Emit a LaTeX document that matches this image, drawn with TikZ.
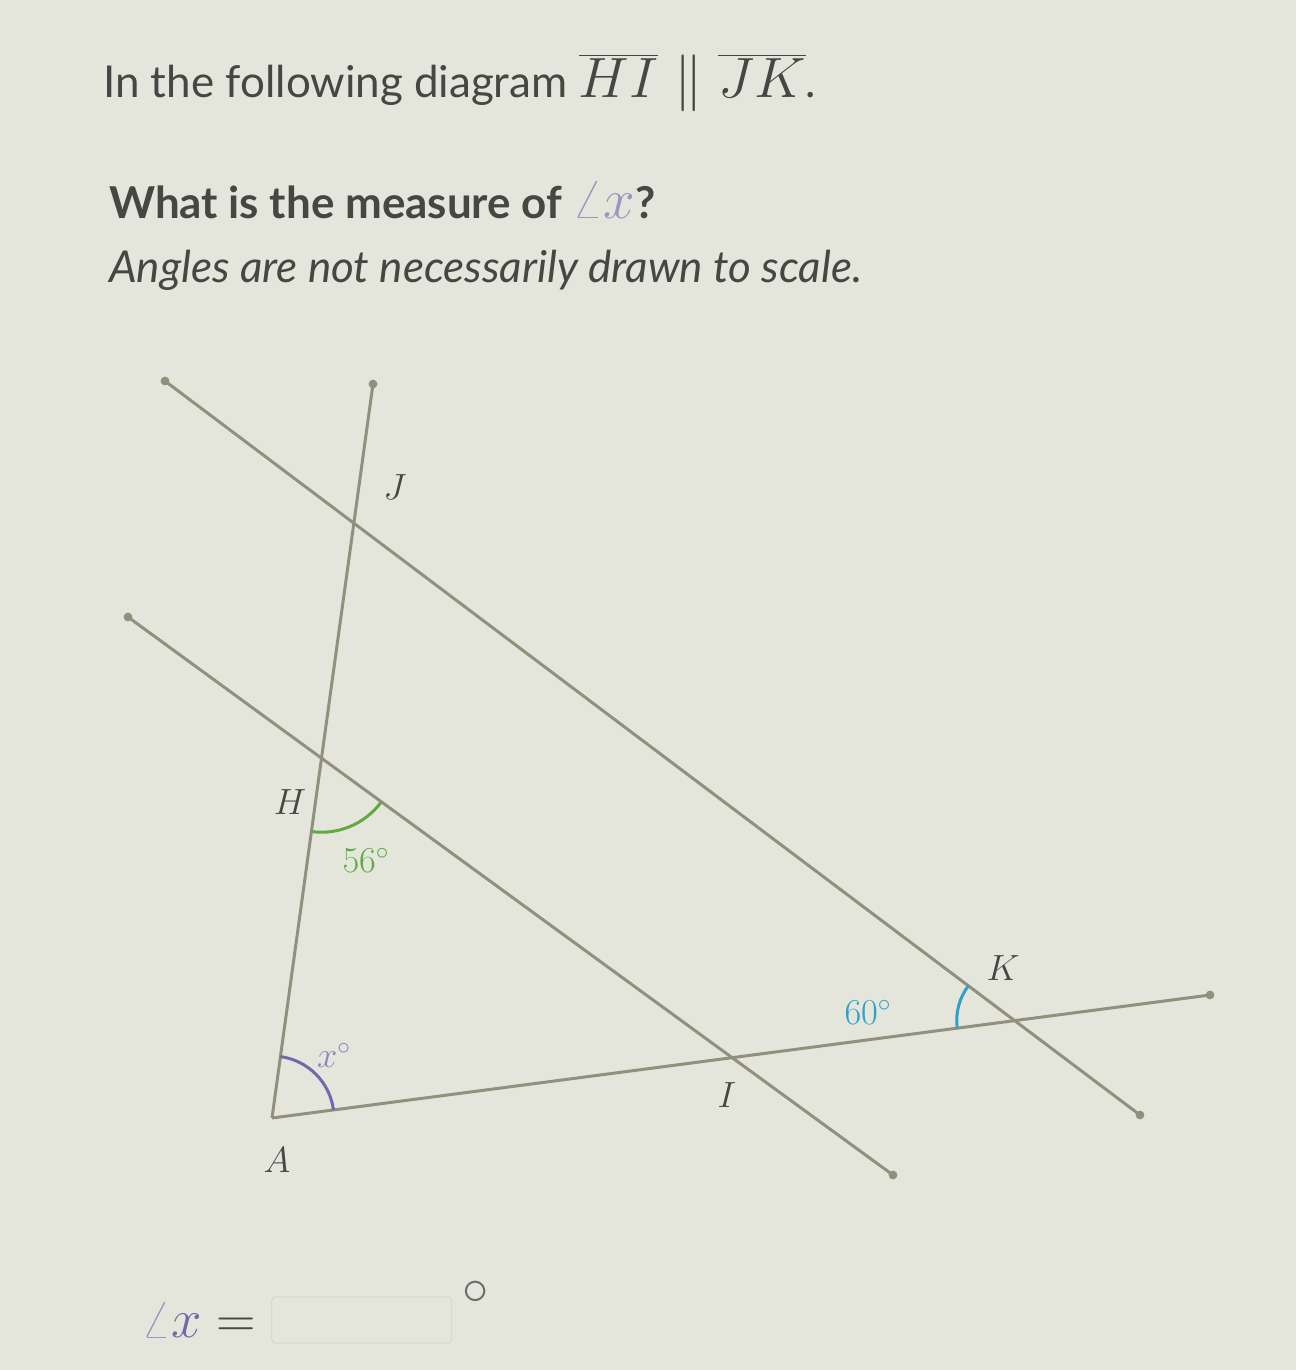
\documentclass[tikz,border=0pt]{standalone}
\usepackage{fontspec}
\setmainfont{Lato}
\usetikzlibrary{positioning}
\definecolor{bg}{RGB}{228,229,219}
\definecolor{segc}{RGB}{146,144,124}
\definecolor{ink}{RGB}{70,70,66}
\definecolor{grn}{RGB}{96,170,64}
\definecolor{blu}{RGB}{48,160,200}
\definecolor{pur}{RGB}{112,104,170}
\newcommand{\bigmath}[1]{\scalebox{1.3}{$#1$}}

\begin{document}
\begin{tikzpicture}[x=0.02cm, y=-0.02cm,
  seg/.style = {draw=segc, line width=1.7pt},
  tip/.style = {circle, fill=segc, inner sep=0pt, minimum size=5pt},
  lbl/.style = {text=ink, font=\fontsize{20}{24}\selectfont},
  deg/.style = {font=\fontsize{20}{24}\selectfont},
  txt/.style = {text=ink, anchor=base west, font=\fontsize{25}{30}\selectfont}]
\fill[bg] (0,0) rectangle (1296,1370);
\useasboundingbox (0,0) rectangle (1296,1370);

\node[txt] (title) at (97,97) {In the following diagram \bigmath{\overline{HI}\parallel\overline{JK}}.};
\node[txt, font=\fontsize{25}{30}\selectfont\bfseries] (ask) at (103,218) {What is the measure of \textcolor{pur!70}{\bigmath{\angle x}}?};
\node[txt, font=\fontsize{25}{30}\selectfont\itshape] (note) at (103,282) {Angles are not necessarily drawn to scale.};

\coordinate (A) at (272,1118);
\coordinate (jt) at (373,384);
\coordinate (ht) at (128,617);
\coordinate (ib) at (893,1175);
\coordinate (jk) at (165,381);
\coordinate (kb) at (1140,1115);
\coordinate (ke) at (1210,995);
\coordinate (H) at (intersection of A--jt and ht--ib);
\coordinate (J) at (intersection of A--jt and jk--kb);
\coordinate (I) at (intersection of A--ke and ht--ib);
\coordinate (K) at (intersection of A--ke and jk--kb);

\draw[seg] (A) -- (jt);
\draw[seg] (ht) -- (ib);
\draw[seg] (jk) -- (kb);
\draw[seg] (A) -- (ke);
\foreach \p in {jt,ht,ib,jk,kb,ke}
  \node[tip] at (\p) {};

\draw[grn, line width=1.7pt] ([shift={(36.8:74)}]H) arc[start angle=36.8, end angle=97.8, radius=74];
\draw[pur, line width=1.7pt] ([shift={(-82.2:62)}]A) arc[start angle=-82.2, end angle=-7.5, radius=62];
\draw[blu, line width=1.7pt] ([shift={(172.5:58)}]K) arc[start angle=172.5, end angle=217, radius=58];

\node[lbl] (lJ) at (395,487) {$J$};
\node[lbl] (lH) at (290,802) {$H$};
\node[lbl] (lA) at (277,1160) {$A$};
\node[lbl] (lI) at (727,1095) {$I$};
\node[lbl] (lK) at (1003,968) {$K$};
\node[deg, text=grn] (d56) at (366,860) {$56^\circ$};
\node[deg, text=pur!80] (dx) at (334,1055) {$x^\circ$};
\node[deg, text=blu] (d60) at (868,1012) {$60^\circ$};

\node[text=ink, font=\fontsize{24}{28}\selectfont] (ans) at (199,1320) {\scalebox{1.25}{$\textcolor{pur!70}{\angle}\textcolor{pur}{x}=$}};
\node[draw=segc!40, rounded corners=2pt, minimum width=3.6cm, minimum height=0.92cm, right=0.18cm of ans] (box) {};
\node[text=ink!80, font=\fontsize{24}{28}\selectfont] (o) at (476,1293) {\scalebox{1.2}{$\circ$}};
\end{tikzpicture}
\end{document}
